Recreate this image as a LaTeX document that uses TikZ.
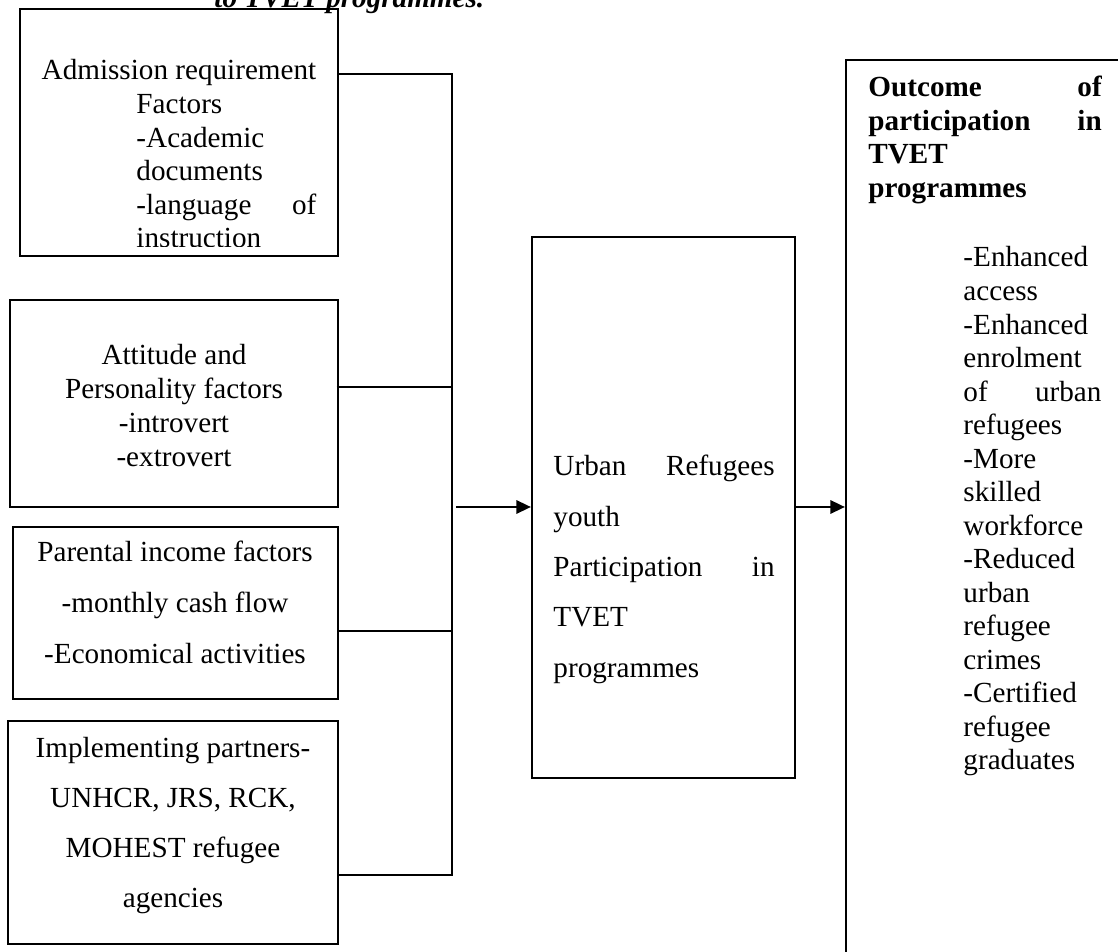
\documentclass[tikz,border=0pt]{standalone}
\usepackage{fontspec}
\setmainfont{Liberation Serif}
\usetikzlibrary{fit,arrows.meta}
\begin{document}
\begin{tikzpicture}[x=0.4115pt,y=-0.4115pt,
  box/.style={draw,line width=0.9pt,inner sep=0pt,rectangle},
  txt/.style={inner sep=0pt,anchor=base,font=\fontsize{12}{14}\selectfont},
  txtl/.style={txt,anchor=base west},
  link/.style={line width=0.9pt},
  arr/.style={line width=0.9pt,-{Triangle[length=6pt,width=5.5pt]}}]
\useasboundingbox (0,0) rectangle (1118,952);
\clip (0,0) rectangle (1118,952);
% title (cut off at the top)
\node[txtl,font=\fontsize{12}{14}\selectfont\bfseries\itshape] (title) at (214,8) {to TVET programmes.};
% boxes
\node[box,fit={(20,9) (338,256)}] (b1) {};
\node[box,fit={(10,300) (338,507)}] (b2) {};
\node[box,fit={(13,527) (338,699)}] (b3) {};
\node[box,fit={(8,721) (338,944)}] (b4) {};
\node[box,fit={(532,237) (795,778)}] (mid) {};
\node[box,fit={(846,60) (1130,1000)}] (out) {};
% box 1 text
\node[txt] (b1l0) at (179,80) {Admission requirement};
\begin{scope}
\clip (20,9) rectangle (338,247);
\foreach \t [count=\i] in {Factors,-Academic,documents,{\makebox[74pt][s]{-language of}},instruction}
  \node[txtl] (b1l\i) at (136,{80+\i*33.6}) {\t};
\end{scope}
% box 2 text
\foreach \t [count=\i] in {Attitude and,Personality factors,-introvert,-extrovert}
  \node[txt] (b2l\i) at (174,{365+(\i-1)*34}) {\t};
% box 3 text
\foreach \t [count=\i] in {Parental income factors,-monthly cash flow,-Economical activities}
  \node[txt] (b3l\i) at (175,{562+(\i-1)*51}) {\t};
% box 4 text
\foreach \t [count=\i] in {Implementing partners-,{UNHCR, JRS, RCK,},MOHEST refugee,agencies}
  \node[txt] (b4l\i) at (173,{758+(\i-1)*50}) {\t};
% middle box text
\foreach \t [count=\i] in {{\makebox[91pt][s]{Urban Refugees}},youth,{\makebox[91pt][s]{Participation in}},TVET,programmes}
  \node[txtl] (ml\i) at (553,{476+(\i-1)*50.3}) {\t};
% outcome box text
\foreach \t [count=\i] in {{\makebox[96pt][s]{Outcome of}},{\makebox[96pt][s]{participation in}},TVET,programmes}
  \node[txtl,font=\fontsize{12}{14}\selectfont\bfseries] (oh\i) at (868,{97+(\i-1)*33.4}) {\t};
\foreach \t [count=\i] in {-Enhanced,access,-Enhanced,enrolment,{\makebox[56.8pt][s]{of urban}},refugees,-More,skilled,workforce,-Reduced,urban,refugee,crimes,-Certified,refugee,graduates}
  \node[txtl] (ol\i) at (963,{267+(\i-1)*33.51}) {\t};
% connectors
\coordinate (j1) at (452,74);
\coordinate (j2) at (452,387);
\coordinate (j3) at (452,631);
\coordinate (j4) at (452,875);
\coordinate (a1) at (456,507);
\draw[link] (b1.east |- j1) -- (j1) -- (j4) -- (b4.east |- j4);
\draw[link] ([xshift=-1pt]b2.east |- j2) -- (j2);
\draw[link] (b3.east |- j3) -- (j3);
\draw[arr] (a1) -- (mid.west |- a1);
\draw[arr] (mid.east |- a1) -- (out.west |- a1);
\end{tikzpicture}
\end{document}
